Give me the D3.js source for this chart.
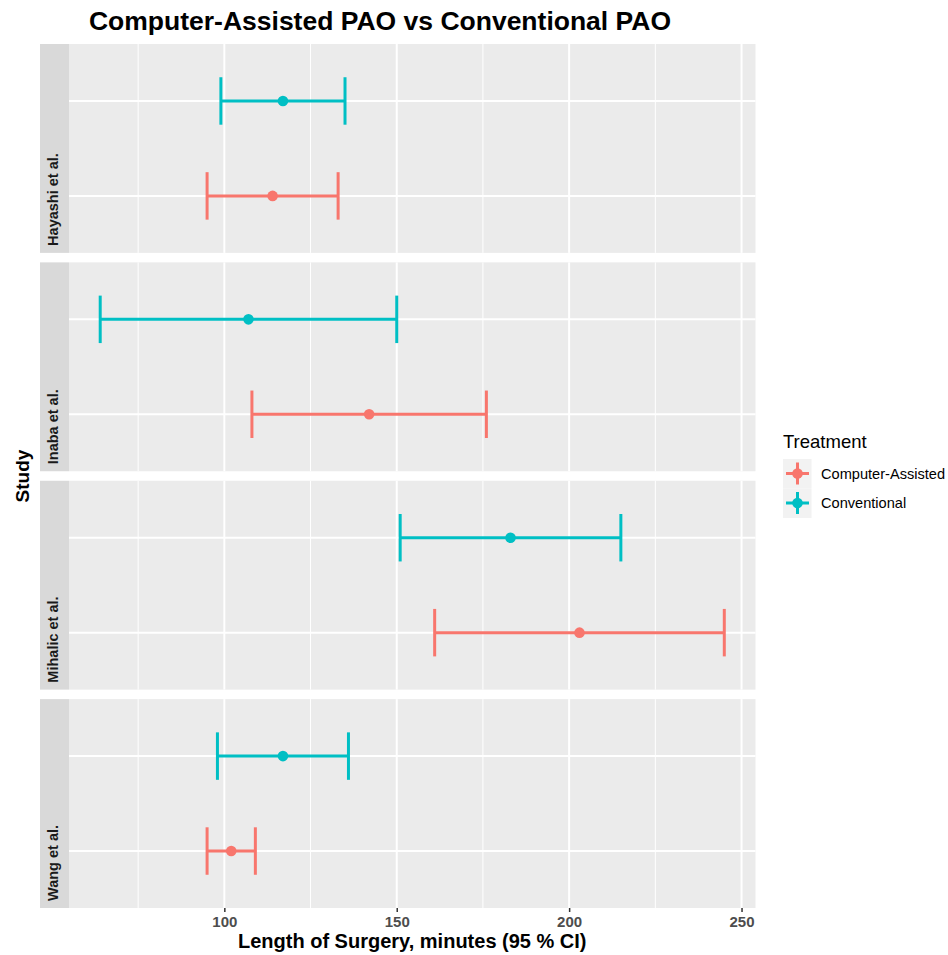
<!DOCTYPE html>
<html>
<head>
<meta charset="utf-8">
<script src="https://cdn.jsdelivr.net/npm/d3@7"></script>
<style>
  html, body { margin: 0; padding: 0; background: #ffffff; }
  svg { display: block; font-family: "Liberation Sans", Arial, sans-serif; }
</style>
</head>
<body>
<svg id="chart" width="948" height="955"></svg>
<script>
// ---- data ----
const studies = ["Hayashi et al.", "Inaba et al.", "Mihalic et al.", "Wang et al."];
const treatments = ["Computer-Assisted", "Conventional"];
const caMean = [114, 142, 203, 102];
const caLow  = [95, 108, 161, 95];
const caHigh = [133, 176, 245, 109];
const convMean = [117, 107, 183, 117];
const convLow  = [99, 64, 151, 98];
const convHigh = [135, 150, 215, 136];
const xTicks = [100, 150, 200, 250];
const xMinorTicks = [75, 125, 175, 225];
const colors = ["#F8766D", "#00BFC4"];

(function () {
const svg = d3.select("#chart");

// ---- layout ----
const stripLeft = 40, panelLeft = 69, panelRight = 755.5;
const plotTop = 44, plotBottom = 908, gap = 9.5;
const nP = studies.length;
const panelH = (plotBottom - plotTop - gap * (nP - 1)) / nP;

const allLo = d3.min([...caLow, ...convLow]);
const allHi = d3.max([...caHigh, ...convHigh]);
const span = allHi - allLo;
const x = d3.scaleLinear().domain([allLo - 0.05 * span, allHi + 0.05 * span]).range([panelLeft, panelRight]);

// rows
const rows = [];
studies.forEach((s, i) => {
  rows.push({ study: i, t: 0, mean: caMean[i], lo: caLow[i], hi: caHigh[i] });
  rows.push({ study: i, t: 1, mean: convMean[i], lo: convLow[i], hi: convHigh[i] });
});

// title
svg.append("text").attr("x", 380).attr("y", 30).attr("text-anchor", "middle")
  .attr("font-size", 26.5).attr("font-weight", "bold").attr("fill", "#000")
  .text("Computer-Assisted PAO vs Conventional PAO");

studies.forEach((s, i) => {
  const pTop = plotTop + i * (panelH + gap);
  const pBot = pTop + panelH;
  const y = d3.scaleLinear().domain([0.4, 2.6]).range([pBot, pTop]);
  const g = svg.append("g");
  // strip
  g.append("rect").attr("x", stripLeft).attr("y", pTop).attr("width", panelLeft - stripLeft).attr("height", panelH).attr("fill", "#D9D9D9");
  g.append("text").attr("transform", `translate(${58},${pBot - 7}) rotate(-90)`)
    .attr("text-anchor", "start").attr("font-size", 14.5).attr("font-weight", "bold").attr("fill", "#1A1A1A")
    .text(s);
  // panel
  g.append("rect").attr("x", panelLeft).attr("y", pTop).attr("width", panelRight - panelLeft).attr("height", panelH).attr("fill", "#EBEBEB");
  g.selectAll(".minor").data(xMinorTicks).enter().append("line")
    .attr("x1", d => x(d)).attr("x2", d => x(d)).attr("y1", pTop).attr("y2", pBot)
    .attr("stroke", "#fff").attr("stroke-width", 1);
  g.selectAll(".major").data(xTicks).enter().append("line")
    .attr("x1", d => x(d)).attr("x2", d => x(d)).attr("y1", pTop).attr("y2", pBot)
    .attr("stroke", "#fff").attr("stroke-width", 2);
  g.selectAll(".hmajor").data([1, 2]).enter().append("line")
    .attr("x1", panelLeft).attr("x2", panelRight).attr("y1", d => y(d)).attr("y2", d => y(d))
    .attr("stroke", "#fff").attr("stroke-width", 2);

  const capH = y(0) - y(0.25);
  const rs = rows.filter(r => r.study === i);
  rs.forEach(r => {
    const yy = y(r.t + 1);
    const c = colors[r.t];
    g.append("line").attr("x1", x(r.lo)).attr("x2", x(r.hi)).attr("y1", yy).attr("y2", yy)
      .attr("stroke", c).attr("stroke-width", 3);
    [r.lo, r.hi].forEach(v => {
      g.append("line").attr("x1", x(v)).attr("x2", x(v)).attr("y1", yy - capH).attr("y2", yy + capH)
        .attr("stroke", c).attr("stroke-width", 3);
    });
    g.append("circle").attr("cx", x(r.mean)).attr("cy", yy).attr("r", 5.3).attr("fill", c);
  });
});

// x axis
const xAxis = d3.axisBottom(x).tickValues(xTicks).tickSize(4).tickPadding(4);
const ax = svg.append("g").attr("transform", `translate(0,${plotBottom})`).call(xAxis);
ax.select(".domain").remove();
ax.selectAll(".tick line").attr("stroke", "#333").attr("stroke-width", 1.5);
ax.selectAll(".tick text").attr("font-size", 15).attr("font-weight", "bold").attr("fill", "#4D4D4D")
  .attr("font-family", "Liberation Sans, Arial, sans-serif");

svg.append("text").attr("x", (panelLeft + panelRight) / 2).attr("y", 948).attr("text-anchor", "middle")
  .attr("font-size", 20).attr("font-weight", "bold").attr("fill", "#000")
  .text("Length of Surgery, minutes (95 % CI)");

svg.append("text").attr("transform", `translate(29,${(plotTop + plotBottom) / 2}) rotate(-90)`).attr("text-anchor", "middle")
  .attr("font-size", 19).attr("font-weight", "bold").attr("fill", "#000")
  .text("Study");

// legend
const lg = svg.append("g");
lg.append("text").attr("x", 783).attr("y", 448).attr("font-size", 18.5).attr("fill", "#000").text("Treatment");
treatments.forEach((t, i) => {
  const ky = 459 + i * 29.5;
  const cy = ky + 14.5;
  lg.append("rect").attr("x", 783).attr("y", ky).attr("width", 28.5).attr("height", 29.5).attr("fill", "#F2F2F2");
  lg.append("line").attr("x1", 786).attr("x2", 809).attr("y1", cy).attr("y2", cy).attr("stroke", colors[i]).attr("stroke-width", 3);
  lg.append("line").attr("x1", 797.5).attr("x2", 797.5).attr("y1", cy - 11).attr("y2", cy + 11).attr("stroke", colors[i]).attr("stroke-width", 3);
  lg.append("circle").attr("cx", 797.5).attr("cy", cy).attr("r", 5.3).attr("fill", colors[i]);
  lg.append("text").attr("x", 821).attr("y", cy + 5).attr("font-size", 14.6).attr("fill", "#000").text(t);
});
})();
</script>
</body>
</html>
